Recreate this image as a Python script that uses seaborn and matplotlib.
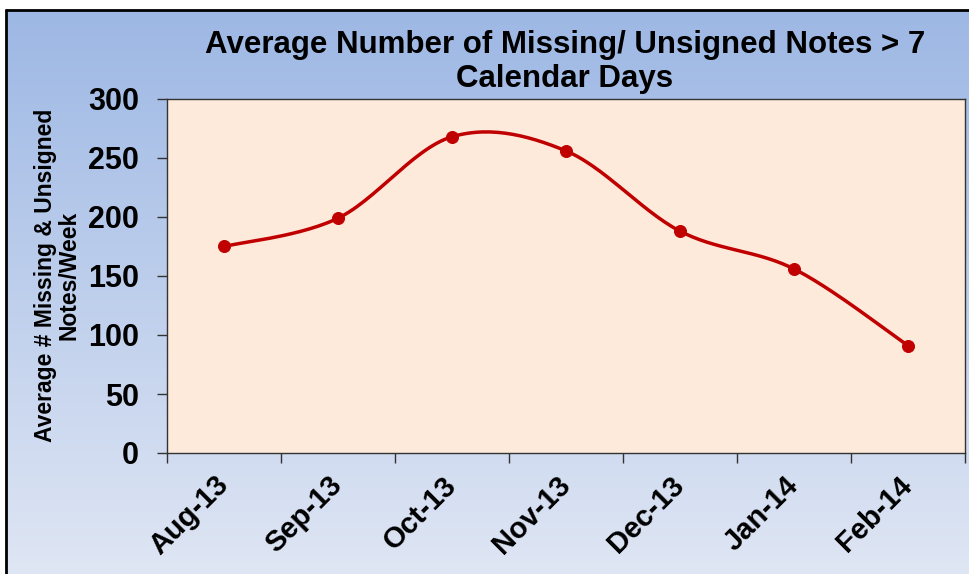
import numpy as np
import pandas as pd
import matplotlib
matplotlib.use('agg')
import seaborn as sns
import matplotlib.pyplot as plt
from matplotlib.lines import Line2D

months = ["Aug-13", "Sep-13", "Oct-13", "Nov-13", "Dec-13", "Jan-14", "Feb-14"]
avg_notes = [175, 199, 268, 256, 188, 156, 91]

TITLE = "Average Number of Missing/ Unsigned Notes > 7\nCalendar Days"
YLABEL = "Average # Missing & Unsigned\nNotes/Week"
RED = "#C00000"


def smooth(xs, ys, n=30):
	# catmull-rom style curve through the points (like Excel "smoothed line")
	px = [xs[0]] + list(xs) + [xs[-1]]
	py = [ys[0]] + list(ys) + [ys[-1]]
	ox, oy = [], []
	for i in range(1, len(px) - 2):
		t = np.linspace(0, 1, n, endpoint=False)
		for p, out in ((px, ox), (py, oy)):
			p0, p1, p2, p3 = p[i - 1], p[i], p[i + 1], p[i + 2]
			out.extend(0.5 * ((2 * p1) + (-p0 + p2) * t
							  + (2 * p0 - 5 * p1 + 4 * p2 - p3) * t ** 2
							  + (-p0 + 3 * p1 - 3 * p2 + p3) * t ** 3))
	ox.append(xs[-1])
	oy.append(ys[-1])
	return np.array(ox), np.array(oy)


def main(output):
	sns.set_theme(style="ticks")
	plt.rcParams['font.family'] = ['Liberation Sans', 'DejaVu Sans']
	plt.rcParams['font.weight'] = 'bold'
	plt.rcParams['text.color'] = 'black'
	plt.rcParams['xtick.labelcolor'] = 'black'
	plt.rcParams['ytick.labelcolor'] = 'black'

	df = pd.DataFrame({"pos": np.arange(len(months)), "month": months, "value": avg_notes})
	cx, cy = smooth(df["pos"].values, df["value"].values)
	curve = pd.DataFrame({"pos": cx, "value": cy})

	fig = plt.figure(figsize=(9.7, 5.74), dpi=100)

	# gradient background
	bg = fig.add_axes([0, 0, 1, 1], zorder=-5)
	top = np.array([0x9C, 0xB7, 0xE4]) / 255
	bot = np.array([0xDF, 0xE6, 0xF4]) / 255
	grad = np.linspace(0, 1, 256)[:, None, None]
	img = top * (1 - grad) + bot * grad
	bg.imshow(img, aspect='auto', extent=[0, 1, 0, 1])
	bg.set_xlim(0, 1)
	bg.set_ylim(0, 1)
	bg.axis('off')
	bg.add_patch(plt.Rectangle((0, 1 - 9 / 574), 1, 9 / 574, color='white', zorder=3))
	bg.add_patch(plt.Rectangle((0, 0), 5 / 970, 1, color='white', zorder=3))
	bg.add_line(Line2D([6 / 970, 6 / 970], [0, 1 - 9.5 / 574], color='black', lw=2, zorder=4))
	bg.add_line(Line2D([6 / 970, 1], [1 - 9.5 / 574, 1 - 9.5 / 574], color='black', lw=2, zorder=4))

	ax = fig.add_axes([167 / 970, 1 - 453 / 574, (965 - 167) / 970, (453 - 99) / 574])
	ax.set_facecolor("#FDEADB")

	sns.lineplot(data=curve, x="pos", y="value", sort=False, color=RED, lw=2.5, ax=ax)
	sns.scatterplot(data=df, x="pos", y="value", color=RED, s=75, edgecolor=RED, zorder=5, ax=ax)

	ax.set_xlim(-0.5, len(months) - 0.5)
	ax.set_ylim(0, 300)
	ax.set_yticks(range(0, 301, 50))
	ax.tick_params(axis='y', labelsize=22, length=7, width=1, pad=13, color='#333333')
	for lab in ax.get_yticklabels():
		lab.set_fontweight('bold')

	ax.set_xticks(np.arange(len(months) + 1) - 0.5)
	ax.set_xticklabels([])
	ax.tick_params(axis='x', which='major', length=7, width=1, color='#333333')
	ax.set_xticks(df["pos"].values, minor=True)
	ax.set_xticklabels(months, minor=True, rotation=45, ha='right', va='center',
					   rotation_mode='anchor', fontsize=21, fontweight='bold')
	ax.tick_params(axis='x', which='minor', length=0, pad=20)

	for s in ax.spines.values():
		s.set_color('#333333')
		s.set_linewidth(1)

	ax.set_xlabel("")
	ax.set_ylabel("")
	fig.text(57 / 970, 1 - 275 / 574, YLABEL, rotation=90, ha='center', va='center',
			 fontsize=16.5, fontweight='bold', linespacing=1.05)
	fig.text(565 / 970, 1 - 62 / 574, TITLE, ha='center', va='center',
			 fontsize=22.5, fontweight='bold', linespacing=1.15)

	fig.savefig(output, dpi=100)


if __name__ == "__main__":
	main("out.png")
